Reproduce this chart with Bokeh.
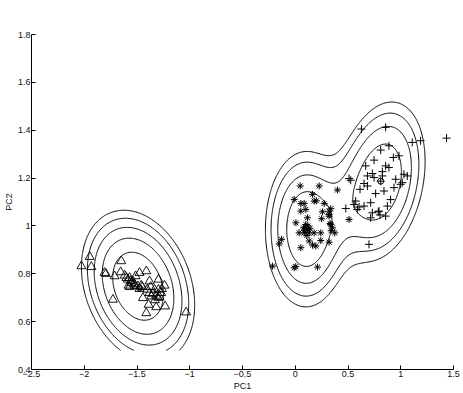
import numpy as np
from bokeh.plotting import figure
from bokeh.models import Range1d, FixedTicker
from bokeh.embed import file_html
from bokeh.resources import INLINE

# ---- scatter data (PC1, PC2) ----
tri_x = [-2.027, -1.948, -1.933, -1.807, -1.795, -1.649, -1.712, -1.655, -1.617, -1.586,
         -1.570, -1.554, -1.580, -1.539, -1.513, -1.476, -1.412, -1.491, -1.476, -1.460,
         -1.381, -1.296, -1.403, -1.381, -1.365, -1.349, -1.318, -1.286, -1.271, -1.264,
         -1.239, -1.296, -1.334, -1.444, -1.390, -1.318, -1.233, -1.412, -1.728, -1.034,
         -1.530, -1.520, -1.560, -1.600, -1.450, -1.370, -1.300, -1.330, -1.570]
tri_y = [0.832, 0.871, 0.829, 0.804, 0.800, 0.853, 0.790, 0.807, 0.793, 0.776,
         0.783, 0.762, 0.751, 0.769, 0.790, 0.804, 0.811, 0.748, 0.737, 0.751,
         0.769, 0.776, 0.734, 0.720, 0.706, 0.717, 0.709, 0.703, 0.720, 0.737,
         0.751, 0.734, 0.734, 0.699, 0.671, 0.661, 0.664, 0.636, 0.692, 0.639,
         0.757, 0.750, 0.770, 0.783, 0.745, 0.745, 0.700, 0.690, 0.745]

star_x = [0.047, 0.227, 0.400, -0.010, 0.053, 0.085, 0.164, 0.179, 0.274, 0.053,
          0.100, 0.258, 0.321, 0.337, 0.321, 0.006, 0.078, 0.100, 0.116, 0.085,
          0.132, 0.179, 0.242, 0.037, 0.337, 0.353, 0.375, 0.321, 0.132, 0.164,
          0.242, 0.053, 0.195, 0.321, -0.130, -0.152, -0.215, -0.010, 0.211, 0.510,
          0.116, 0.005, 0.100, 0.120, 0.090, 0.140, 0.330, 0.340, 0.250, 0.110,
          0.200]
star_y = [1.167, 1.167, 1.150, 1.111, 1.094, 1.094, 1.132, 1.104, 1.094, 1.062,
          1.069, 1.059, 1.062, 1.072, 1.048, 1.013, 0.992, 1.006, 0.985, 0.971,
          0.971, 0.971, 0.971, 0.971, 1.006, 0.992, 0.971, 1.041, 0.937, 0.920,
          0.939, 0.909, 0.916, 0.932, 0.944, 0.925, 0.832, 0.825, 0.828, 1.027,
          1.034, 0.830, 0.995, 1.000, 0.980, 0.990, 1.010, 0.980, 1.030, 0.960,
          1.105]

plus_x = [0.627, 0.857, 1.109, 1.188, 1.434, 0.888, 0.810, 0.930, 0.983, 0.747,
          0.668, 0.857, 0.888, 0.826, 0.731, 0.747, 0.826, 0.526, 0.652, 0.684,
          0.614, 0.952, 1.015, 1.062, 0.936, 0.999, 0.841, 0.762, 0.904, 0.873,
          0.715, 0.794, 0.803, 0.857, 0.715, 0.573, 0.558, 0.605, 0.652, 0.479,
          0.510, 0.699, 0.589, 0.731, 0.787, 0.810, 1.030, 0.684]
plus_y = [1.405, 1.412, 1.349, 1.356, 1.367, 1.335, 1.317, 1.286, 1.293, 1.275,
          1.251, 1.251, 1.244, 1.227, 1.219, 1.202, 1.209, 1.191, 1.177, 1.167,
          1.153, 1.195, 1.181, 1.209, 1.160, 1.174, 1.146, 1.135, 1.110, 1.083,
          1.097, 1.062, 1.046, 1.041, 1.034, 1.104, 1.090, 1.079, 1.083, 1.073,
          1.198, 0.923, 1.069, 1.055, 1.059, 1.187, 1.216, 1.209]

# class means (circles)
mean_x = [-1.476, 0.100, 0.810]
mean_y = [0.741, 0.986, 1.187]

# ---- Gaussian mixture model drawn as contours ----
comp_mx = [-1.49, 0.100, 0.810, 0.450]
comp_my = [0.748, 0.986, 1.187, 1.080]
comp_sx = [0.240, 0.195, 0.215, 0.180]
comp_sy = [0.142, 0.165, 0.169, 0.130]
comp_rho = [-0.25, 0.00, 0.25, 0.30]
comp_peak = [1.0, 0.563, 0.557, 0.090]
level_log = [-2.5, -2.0, -1.5, -1.0, -0.5]

x_ticks = [-2.5, -2, -1.5, -1, -0.5, 0, 0.5, 1, 1.5]
x_tick_labels = ["\u22122.5", "\u22122", "\u22121.5", "\u22121", "\u22120.5", "0", "0.5", "1", "1.5"]
y_ticks = [0.4, 0.6, 0.8, 1.0, 1.2, 1.4, 1.6, 1.8]
y_tick_labels = ["0.4", "0.6", "0.8", "1", "1.2", "1.4", "1.6", "1.8"]

gx = np.linspace(-2.5, 1.5, 481)
gy = np.linspace(0.48, 1.8, 331)
GX, GY = np.meshgrid(gx, gy)
Z = np.zeros_like(GX)
for mx, my, sx, sy, r, pk in zip(comp_mx, comp_my, comp_sx, comp_sy, comp_rho, comp_peak):
    ux = (GX - mx) / sx
    uy = (GY - my) / sy
    q = (ux**2 - 2 * r * ux * uy + uy**2) / (1 - r**2)
    Z += pk * np.exp(-q / 2)
levels = list(np.exp(level_log))

FONT = "Liberation Sans"

p = figure(width=463, height=393, output_backend="svg", toolbar_location=None,
           x_range=Range1d(-2.5, 1.5), y_range=Range1d(0.4, 1.8),
           min_border_left=2, min_border_right=10, min_border_top=34, min_border_bottom=2,
           background_fill_color="white", border_fill_color="white")
p.outline_line_color = None
p.xgrid.visible = False
p.ygrid.visible = False

p.contour(gx, gy, Z, levels, line_color="black", line_width=1)

p.scatter(tri_x, tri_y, marker="triangle", size=9, fill_color=None, line_color="black", line_width=0.9)
p.scatter(star_x, star_y, marker="asterisk", size=7, line_color="black", line_width=1)
p.scatter(plus_x, plus_y, marker="cross", size=8, line_color="black", line_width=1)
p.scatter(mean_x, mean_y, marker="circle", size=6, fill_color=None, line_color="black", line_width=1)

for ax, ticks, labels, name in ((p.xaxis[0], x_ticks, x_tick_labels, "PC1"),
                                (p.yaxis[0], y_ticks, y_tick_labels, "PC2")):
    ax.ticker = FixedTicker(ticks=ticks)
    ax.major_label_overrides = {t: l for t, l in zip(ticks, labels)}
    ax.minor_tick_line_color = None
    ax.major_tick_in = 4
    ax.major_tick_out = 0
    ax.axis_line_color = "black"
    ax.major_tick_line_color = "black"
    ax.major_label_text_font = FONT
    ax.major_label_text_font_size = "9px"
    ax.major_label_text_color = "#111111"
    ax.major_label_standoff = 1
    ax.axis_label = name
    ax.axis_label_text_font = FONT
    ax.axis_label_text_font_size = "9px"
    ax.axis_label_text_font_style = "normal"
    ax.axis_label_text_color = "#111111"
    ax.axis_label_standoff = 1

open("out.html", "w").write(file_html(p, INLINE))
